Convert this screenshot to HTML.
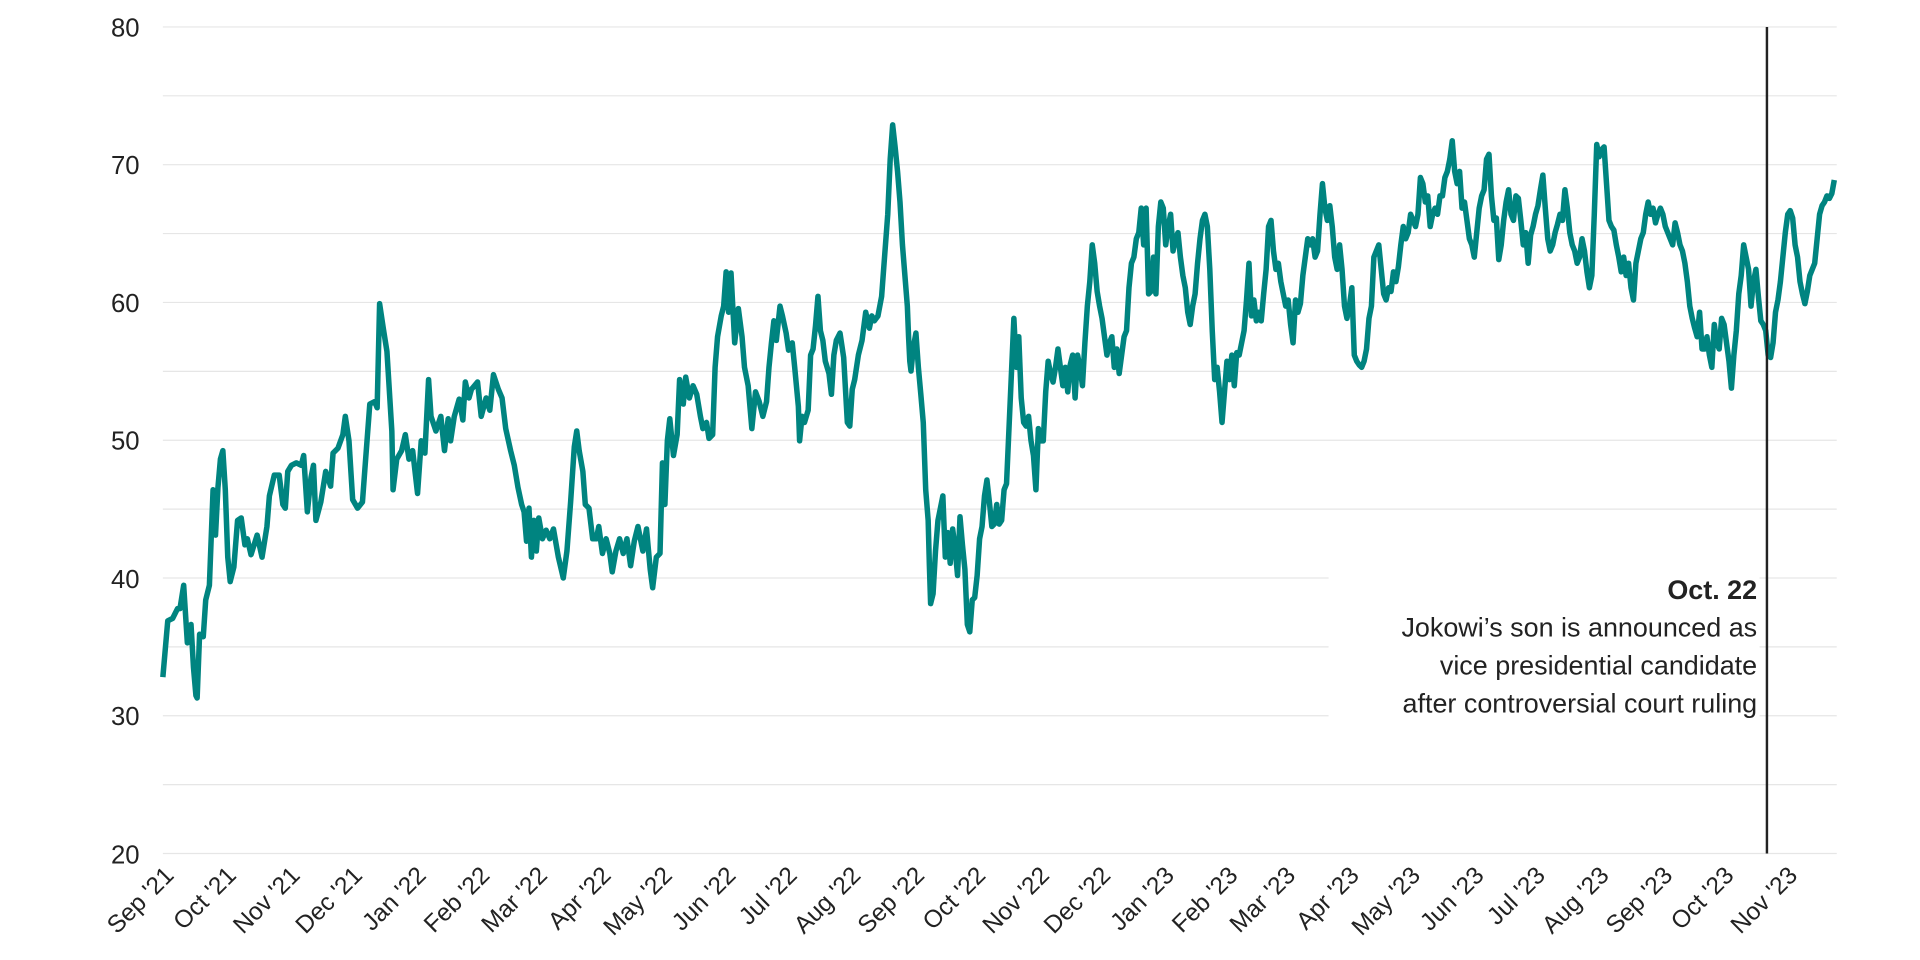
<!DOCTYPE html>
<html><head><meta charset="utf-8"><style>
html,body{margin:0;padding:0;background:#fff;}
svg{display:block;font-family:"Liberation Sans",sans-serif;}
</style></head><body>
<svg width="1920" height="960" viewBox="0 0 1568 784" xmlns="http://www.w3.org/2000/svg">
<g stroke="#e6e6e6" stroke-width="1">
<line x1="133" x2="1500" y1="22" y2="22"/><line x1="133" x2="1500" y1="78.25" y2="78.25"/>
<line x1="133" x2="1500" y1="134.5" y2="134.5"/><line x1="133" x2="1500" y1="190.75" y2="190.75"/>
<line x1="133" x2="1500" y1="247" y2="247"/><line x1="133" x2="1500" y1="303.25" y2="303.25"/>
<line x1="133" x2="1500" y1="359.5" y2="359.5"/><line x1="133" x2="1500" y1="415.75" y2="415.75"/>
<line x1="133" x2="1500" y1="472" y2="472"/><line x1="133" x2="1500" y1="528.25" y2="528.25"/>
<line x1="133" x2="1500" y1="584.5" y2="584.5"/><line x1="133" x2="1500" y1="640.75" y2="640.75"/>
<line x1="133" x2="1500" y1="697" y2="697"/>
</g>
<g font-size="21" fill="#222" text-anchor="end">
<text x="114" y="30">80</text><text x="114" y="142">70</text><text x="114" y="255">60</text>
<text x="114" y="367">50</text><text x="114" y="480">40</text><text x="114" y="592">30</text><text x="114" y="705">20</text>
</g>
<rect x="1085" y="468" width="352" height="124" fill="#fff"/>
<polyline fill="none" stroke="#008480" stroke-width="4.5" stroke-linejoin="round" points="133,553 137,507 141,505 145,497 147,497 150,478 153,525 156,510 158,545 160,568 161,570 163,518 166,520 168,490 171,478 174,400 176,437 178,398 180,375 182,368 184,400 186,455 188,475 191,463 194,425 197,423 200,445 202,440 205,453 210,437 214,455 218,430 220,405 224,388 228,388 231,412 233,415 235,385 238,380 242,378 246,380 248,372 251,418 254,390 256,380 258,425 262,410 266,385 270,397 272,370 276,366 280,355 282,340 285,360 288,408 292,415 296,410 298,383 302,330 306,328 308,333 310,248 313,268 316,287 320,352 321,400 324,375 328,368 331,355 334,375 337,368 341,403 344,360 347,370 350,310 352,340 356,352 360,340 363,368 366,342 368,360 371,340 375,326 378,343 380,312 383,325 385,318 390,312 393,340 397,325 400,335 403,306 407,318 410,325 413,350 417,368 420,380 423,398 426,412 428,418 430,442 432,415 434,455 436,425 438,450 440,423 443,440 446,433 449,440 452,432 456,455 460,472 463,450 466,410 469,365 471,352 473,368 476,385 478,412 481,415 484,440 487,440 489,430 492,452 495,440 498,452 500,467 503,450 506,440 509,452 512,440 515,462 518,442 521,430 525,450 528,432 531,465 533,480 536,455 539,452 541,378 543,412 545,360 547,342 550,372 553,355 555,310 558,330 560,308 563,325 566,315 569,322 572,340 574,350 577,345 579,358 582,355 584,300 586,275 589,258 591,250 593,222 595,255 597,223 600,280 603,252 606,275 608,300 611,315 614,350 617,320 620,328 623,340 626,328 628,300 630,280 632,262 634,278 637,250 639,258 642,272 644,286 647,280 649,300 652,332 653,360 655,340 657,345 660,335 662,290 664,285 666,266 668,242 670,270 672,278 674,295 677,305 679,322 681,290 683,278 686,272 689,292 692,345 694,348 696,318 698,310 701,290 704,278 707,255 710,268 712,258 714,262 717,258 720,242 722,215 725,175 727,130 729,102 731,120 733,140 735,165 737,200 739,225 741,250 742,275 743,295 744,303 746,283 748,272 750,300 752,322 754,345 756,400 758,425 759,462 760,493 762,485 764,450 766,425 768,415 770,405 772,455 774,435 776,460 778,432 780,448 782,470 784,422 786,445 788,465 790,510 792,516 794,490 796,488 798,470 800,440 802,430 804,405 806,392 808,410 810,430 812,428 814,412 816,428 818,425 820,400 822,395 824,350 826,305 828,260 830,300 832,275 834,325 836,345 838,348 840,340 842,360 844,372 846,400 848,350 850,360 852,360 854,320 856,295 858,305 860,312 862,300 864,285 866,300 868,315 870,300 872,320 874,298 876,290 878,325 880,290 882,300 884,315 886,280 888,250 890,230 892,200 894,215 896,238 898,250 900,260 902,275 904,290 906,280 908,275 910,300 912,285 914,305 916,290 918,275 920,270 922,235 924,215 926,210 928,195 930,190 932,170 934,200 936,170 938,240 940,238 942,210 944,240 946,185 948,165 950,170 952,200 954,185 956,175 958,205 960,195 962,190 964,210 966,225 968,235 970,255 972,265 974,250 976,240 978,215 980,195 982,180 984,175 986,185 988,220 990,270 992,310 994,300 996,320 998,345 1000,320 1002,295 1004,310 1006,290 1008,315 1010,288 1012,290 1014,280 1016,270 1018,245 1020,215 1022,258 1024,245 1026,262 1028,255 1030,262 1032,240 1034,220 1036,185 1038,180 1040,205 1042,220 1044,215 1046,230 1048,240 1050,250 1052,245 1054,265 1056,280 1058,245 1060,255 1062,248 1064,225 1066,210 1068,195 1070,200 1072,195 1074,210 1076,205 1078,175 1080,150 1082,170 1084,180 1086,168 1088,185 1090,210 1092,220 1094,200 1096,220 1098,250 1100,260 1102,250 1104,235 1106,290 1108,295 1110,298 1112,300 1114,295 1116,285 1118,260 1120,250 1122,210 1124,205 1126,200 1128,220 1130,240 1132,245 1134,235 1136,238 1138,222 1140,230 1142,218 1144,200 1146,185 1148,195 1150,190 1152,175 1154,180 1156,185 1158,175 1160,145 1162,150 1164,165 1166,160 1168,185 1170,175 1172,170 1174,175 1176,160 1178,160 1180,145 1182,140 1184,130 1186,115 1188,140 1190,150 1192,140 1194,170 1196,165 1198,180 1200,195 1202,200 1204,210 1206,190 1208,170 1210,160 1212,155 1214,130 1216,126 1218,160 1220,180 1222,178 1224,212 1226,200 1228,180 1230,165 1232,155 1234,175 1236,180 1238,160 1240,162 1242,180 1244,200 1246,190 1248,215 1250,192 1252,185 1254,175 1256,168 1258,155 1260,143 1262,170 1264,195 1266,205 1268,200 1270,190 1272,183 1274,175 1276,180 1278,155 1280,170 1282,190 1284,200 1286,205 1288,215 1290,210 1292,195 1294,205 1296,222 1298,235 1300,225 1302,175 1304,118 1306,128 1308,122 1310,120 1312,150 1314,180 1316,185 1318,188 1320,200 1322,210 1324,222 1326,210 1328,225 1330,215 1332,235 1334,245 1336,215 1338,205 1340,195 1342,190 1344,175 1346,165 1348,175 1350,170 1352,182 1354,175 1356,170 1358,175 1360,185 1362,190 1364,195 1366,200 1368,182 1370,190 1372,200 1374,205 1376,215 1378,230 1380,250 1382,260 1384,268 1386,275 1388,255 1390,285 1392,285 1394,275 1396,290 1398,300 1400,265 1402,280 1404,285 1406,260 1408,265 1410,280 1412,295 1414,317 1416,290 1418,270 1420,240 1422,225 1424,200 1426,210 1428,220 1430,250 1432,230 1434,220 1436,242 1438,262 1440,265 1442,270 1444,290 1446,292 1448,280 1450,255 1452,245 1454,230 1456,210 1458,190 1460,175 1462,172 1464,178 1466,200 1468,210 1470,230 1472,240 1474,248 1476,238 1478,225 1480,220 1482,215 1484,195 1486,175 1488,168 1490,165 1492,160 1494,162 1496,158 1498,147"/>
<line x1="1443" x2="1443" y1="22" y2="697" stroke="#222" stroke-width="2"/>
<g font-size="22" fill="#222" text-anchor="end">
<text x="1435" y="489" font-weight="bold">Oct. 22</text>
<text x="1435" y="520">Jokowi’s son is announced as</text>
<text x="1435" y="551">vice presidential candidate</text>
<text x="1435" y="582">after controversial court ruling</text>
</g>
<g font-size="20" fill="#222" text-anchor="end">
<text transform="translate(143,716) rotate(-45)">Sep '21</text>
<text transform="translate(194,716) rotate(-45)">Oct '21</text>
<text transform="translate(246,716) rotate(-45)">Nov '21</text>
<text transform="translate(297,716) rotate(-45)">Dec '21</text>
<text transform="translate(349,716) rotate(-45)">Jan '22</text>
<text transform="translate(401,716) rotate(-45)">Feb '22</text>
<text transform="translate(448,716) rotate(-45)">Mar '22</text>
<text transform="translate(500,716) rotate(-45)">Apr '22</text>
<text transform="translate(550,716) rotate(-45)">May '22</text>
<text transform="translate(602,716) rotate(-45)">Jun '22</text>
<text transform="translate(652,716) rotate(-45)">Jul '22</text>
<text transform="translate(704,716) rotate(-45)">Aug '22</text>
<text transform="translate(756,716) rotate(-45)">Sep '22</text>
<text transform="translate(806,716) rotate(-45)">Oct '22</text>
<text transform="translate(858,716) rotate(-45)">Nov '22</text>
<text transform="translate(908,716) rotate(-45)">Dec '22</text>
<text transform="translate(960,716) rotate(-45)">Jan '23</text>
<text transform="translate(1012,716) rotate(-45)">Feb '23</text>
<text transform="translate(1059,716) rotate(-45)">Mar '23</text>
<text transform="translate(1111,716) rotate(-45)">Apr '23</text>
<text transform="translate(1161,716) rotate(-45)">May '23</text>
<text transform="translate(1213,716) rotate(-45)">Jun '23</text>
<text transform="translate(1263,716) rotate(-45)">Jul '23</text>
<text transform="translate(1315,716) rotate(-45)">Aug '23</text>
<text transform="translate(1367,716) rotate(-45)">Sep '23</text>
<text transform="translate(1417,716) rotate(-45)">Oct '23</text>
<text transform="translate(1469,716) rotate(-45)">Nov '23</text>
</g>
</svg>
</body></html>
